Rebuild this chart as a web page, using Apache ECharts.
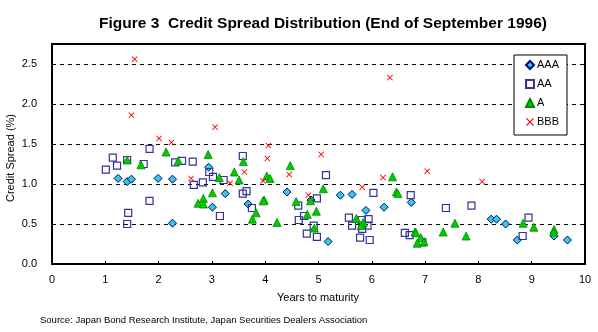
<!DOCTYPE html>
<html>
<head>
<meta charset="utf-8">
<script src="https://cdn.jsdelivr.net/npm/echarts@6/dist/echarts.min.js"></script>
<style>
  html, body { margin: 0; padding: 0; background: #fff; }
  #chart { width: 598px; height: 332px; }
</style>
</head>
<body>
<div id="chart"></div>
<script>
// Credit spread (%) against years to maturity, one [years, spread] pair per bond, by rating
var ratings = ['AAA', 'AA', 'A', 'BBB'];

var AAA = [
  [1.24, 1.07], [1.41, 1.03], [1.49, 1.06], [1.99, 1.07], [2.26, 1.06], [2.94, 1.21], [3.01, 0.71], [2.26, 0.51],
  [3.25, 0.88], [3.68, 0.75], [4.41, 0.90], [4.86, 0.80], [5.41, 0.86], [5.18, 0.28],
  [5.63, 0.87], [5.89, 0.67], [6.23, 0.71], [6.74, 0.77],
  [8.24, 0.56], [8.34, 0.56], [8.51, 0.50], [8.73, 0.30], [9.42, 0.35], [9.67, 0.30]
];

var AA = [
  [1.83, 1.44], [1.14, 1.33], [1.22, 1.23], [1.01, 1.18], [1.41, 1.30], [1.72, 1.25], [2.31, 1.27], [2.44, 1.29],
  [2.64, 1.28], [2.95, 1.15], [3.02, 1.09], [2.66, 0.99], [2.83, 1.02], [1.83, 0.79], [1.43, 0.64], [1.41, 0.50],
  [3.15, 0.60], [3.58, 1.35], [3.22, 1.05], [3.65, 0.91], [3.58, 0.88], [3.75, 0.70], [5.14, 1.11], [4.97, 0.82],
  [4.62, 0.73], [4.73, 0.60], [4.63, 0.55], [4.91, 0.48], [4.78, 0.38], [4.97, 0.34],
  [6.03, 0.89], [6.73, 0.86], [7.39, 0.70], [5.57, 0.58], [5.63, 0.48], [5.81, 0.55], [5.94, 0.56], [5.92, 0.48],
  [5.82, 0.44], [5.78, 0.33], [5.96, 0.30], [6.62, 0.39], [6.71, 0.36], [6.95, 0.27],
  [7.87, 0.73], [8.94, 0.58], [8.83, 0.35]
];

var A = [
  [1.41, 1.30], [1.67, 1.24], [2.14, 1.40], [2.37, 1.29], [2.93, 1.37], [3.14, 1.08], [3.01, 0.89], [2.84, 0.82],
  [2.74, 0.76], [2.84, 0.75], [3.42, 1.15], [3.59, 1.28], [3.51, 1.05], [4.03, 1.10], [4.09, 1.07], [4.47, 1.23],
  [5.09, 0.94], [3.98, 0.80], [3.96, 0.79], [3.83, 0.64], [3.76, 0.56], [4.22, 0.52], [4.58, 0.78], [4.85, 0.79],
  [4.79, 0.62], [4.96, 0.66], [4.92, 0.45],
  [6.39, 1.09], [6.46, 0.90], [6.49, 0.88], [5.71, 0.57], [5.84, 0.52], [5.80, 0.48], [6.81, 0.40], [6.83, 0.39],
  [6.92, 0.33], [6.98, 0.28], [6.85, 0.26], [7.34, 0.40], [7.56, 0.51],
  [7.77, 0.35], [8.84, 0.51], [9.04, 0.46], [9.42, 0.43], [9.41, 0.40]
];

var BBB = [
  [1.55, 2.56], [1.49, 1.86], [3.06, 1.71], [2.01, 1.57], [2.24, 1.52], [2.61, 1.07],
  [4.06, 1.48], [4.04, 1.32], [3.61, 1.15], [3.34, 1.01], [3.96, 1.04], [4.45, 1.12], [5.05, 1.37], [4.81, 0.86],
  [6.34, 2.33], [6.21, 1.08], [5.82, 0.96], [7.04, 1.16], [8.07, 1.03]
];

var xTicks = [0, 1, 2, 3, 4, 5, 6, 7, 8, 9, 10];
var yTicks = ['0.0', '0.5', '1.0', '1.5', '2.0', '2.5'];

var FONT = '"Liberation Sans", Arial, sans-serif';
var crossPath = 'path://M0,1L1,0L5,4L9,0L10,1L6,5L10,9L9,10L5,6L1,10L0,9L4,5Z';

var chart = echarts.init(document.getElementById('chart'), null, { renderer: 'canvas' });

chart.setOption({
  animation: false,
  backgroundColor: '#ffffff',
  textStyle: { fontFamily: FONT },
  title: {
    text: 'Figure 3  Credit Spread Distribution (End of September 1996)',
    left: 318,
    top: 11,
    textAlign: 'center',
    textStyle: { fontFamily: FONT, fontSize: 15.5, fontWeight: 'bold', color: '#000' }
  },
  grid: {
    left: 52, right: 13, top: 44, bottom: 68,
    show: true, borderColor: '#000', borderWidth: 2, backgroundColor: '#fff'
  },
  legend: {
    data: ratings,
    orient: 'vertical',
    left: 514,
    top: 55,
    padding: [4, 8, 7, 11],
    itemGap: 7,
    itemWidth: 8,
    itemHeight: 8,
    backgroundColor: '#fff',
    borderColor: '#000',
    borderWidth: 1,
    borderRadius: 0,
    textStyle: { fontFamily: FONT, fontSize: 11, color: '#000', lineHeight: 12, padding: [0, 0, 0, -2] }
  },
  xAxis: {
    type: 'value',
    min: xTicks[0],
    max: xTicks[xTicks.length - 1],
    interval: 1,
    axisLine: { show: true, lineStyle: { color: '#000', width: 2 } },
    axisTick: { show: true, inside: true, length: 3, lineStyle: { color: '#000', width: 1 } },
    axisLabel: { color: '#000', fontSize: 11, margin: 10, fontFamily: FONT },
    splitLine: { show: false }
  },
  yAxis: {
    type: 'value',
    min: 0,
    max: 2.75,
    interval: 0.5,
    axisLine: { show: true, lineStyle: { color: '#000', width: 2 } },
    axisTick: { show: false },
    axisLabel: {
      color: '#000', fontSize: 11, margin: 15, fontFamily: FONT,
      showMaxLabel: false,
      formatter: function (v) {
        var s = v.toFixed(1);
        return yTicks.indexOf(s) >= 0 && Math.abs(v * 2 - Math.round(v * 2)) < 1e-6 ? s : '';
      }
    },
    splitLine: { show: true, lineStyle: { color: '#000', width: 1, type: [4, 4] } }
  },
  graphic: [
    {
      type: 'text', x: 11, y: 158, rotation: Math.PI / 2,
      style: { text: 'Credit Spread (%)', font: '11px ' + FONT, fill: '#000',
               textAlign: 'center', textVerticalAlign: 'middle' }
    },
    {
      type: 'text', x: 318, y: 298,
      style: { text: 'Years to maturity', font: '11px ' + FONT, fill: '#000',
               textAlign: 'center', textVerticalAlign: 'middle' }
    },
    {
      type: 'text', x: 40, y: 320,
      style: { text: 'Source: Japan Bond Research Institute, Japan Securities Dealers Association',
               font: '9.5px ' + FONT, fill: '#000', textAlign: 'left', textVerticalAlign: 'middle' }
    }
  ],
  series: [
    {
      name: 'AAA', type: 'scatter', data: AAA,
      symbol: 'diamond', symbolSize: 8,
      itemStyle: { color: '#33ccdd', borderColor: '#000080', borderWidth: 1, opacity: 1 }
    },
    {
      name: 'AA', type: 'scatter', data: AA,
      symbol: 'rect', symbolSize: 7,
      itemStyle: { color: 'rgba(255,255,255,0)', borderColor: '#333399', borderWidth: 1.2, opacity: 1 }
    },
    {
      name: 'A', type: 'scatter', data: A,
      symbol: 'triangle', symbolSize: 8,
      itemStyle: { color: '#00cc00', borderColor: '#008800', borderWidth: 0.8, opacity: 1 }
    },
    {
      name: 'BBB', type: 'scatter', data: BBB,
      symbol: crossPath, symbolSize: 6,
      itemStyle: { color: '#ff0000', opacity: 1 }
    }
  ]
});
</script>
</body>
</html>
